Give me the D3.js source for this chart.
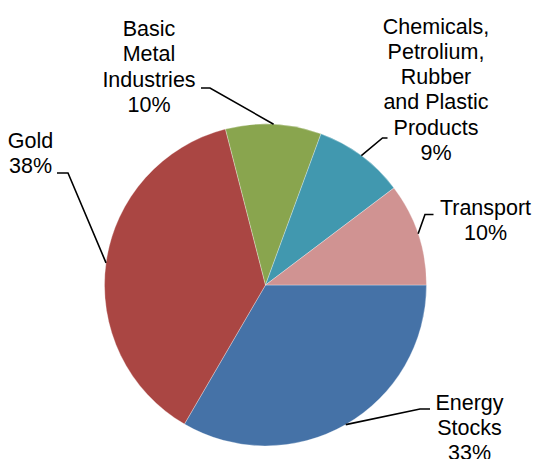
<!DOCTYPE html>
<html>
<head>
<meta charset="utf-8">
<script src="https://cdn.jsdelivr.net/npm/d3@7"></script>
<style>
  body { margin: 0; background: #fff; }
  svg { display: block; }
  text { font-family: "Liberation Sans", Arial, sans-serif; font-size: 21.5px; fill: #000; }
</style>
</head>
<body>
<div class="pieChart"></div>
<script>
// data (share of portfolio, percent)
var categories = ["Energy Stocks", "Gold", "Basic Metal Industries",
    "Chemicals, Petrolium, Rubber and Plastic Products", "Transport"];
var values = [33.4, 37.6, 9.6, 9.1, 10.3];
// label text split into lines as shown
var labelLines = [
    ["Energy", "Stocks"],
    ["Gold"],
    ["Basic", "Metal", "Industries"],
    ["Chemicals,", "Petrolium,", "Rubber", "and Plastic", "Products"],
    ["Transport"]
];
var colors = ["#4572A7", "#AA4643", "#89A54E", "#4198AF", "#D09392"];

// layout: label centre x, first baseline y, leader anchor at label side, elbow length
var labelLayout = [
    {x: 469.5, y: 409.5, ax: 430, ay: 409, dx: -10},
    {x: 30.5, y: 148, ax: 57, ay: 173, dx: 11},
    {x: 149, y: 36, ax: 201, ay: 88, dx: 9},
    {x: 436, y: 33.5, ax: 387.5, ay: 138, dx: -5},
    {x: 485.5, y: 215, ax: 433.5, ay: 214.5, dx: -8.5}
];

var W = 535, H = 459;
var CX = 265.5, CY = 285, R = 161;
var LINE_H = 25.3;

var total = d3.sum(values);
var pct = d3.format(".0%");

var svg = d3.select(".pieChart").append("svg")
    .attr("width", W)
    .attr("height", H);

var pie = d3.pie()
    .sort(null)
    .startAngle(Math.PI / 2)
    .endAngle(Math.PI / 2 + 2 * Math.PI)
    .value(function(d) { return d; });

var arcs = pie(values);

var arc = d3.arc().innerRadius(0).outerRadius(R);
var rim = d3.arc().innerRadius(R).outerRadius(R);

var g = svg.append("g")
    .attr("transform", "translate(" + CX + "," + CY + ")");

g.selectAll("path.slice").data(arcs).enter()
    .append("path")
    .attr("class", "slice")
    .attr("d", arc)
    .style("fill", function(d, i) { return colors[i]; })
    .style("stroke", "#fff")
    .style("stroke-width", 0.5)
    .style("stroke-opacity", 0.6);

// leader lines: label anchor -> short horizontal -> middle of slice rim
svg.selectAll("polyline.leader").data(arcs).enter()
    .append("polyline")
    .attr("class", "leader")
    .attr("points", function(d, i) {
        var L = labelLayout[i];
        var c = rim.centroid(d);
        return [[L.ax, L.ay], [L.ax + L.dx, L.ay], [CX + c[0], CY + c[1]]].join(" ");
    })
    .style("fill", "none")
    .style("stroke", "#000")
    .style("stroke-width", 1.6);

var labels = svg.selectAll("text.label").data(arcs).enter()
    .append("text")
    .attr("class", "label")
    .attr("text-anchor", "middle");

labels.each(function(d, i) {
    var L = labelLayout[i];
    var lines = labelLines[i].concat([pct(d.value / total)]);
    d3.select(this).selectAll("tspan").data(lines).enter()
        .append("tspan")
        .attr("x", L.x)
        .attr("y", function(t, j) { return L.y + j * LINE_H; })
        .text(function(t) { return t; });
});
</script>
</body>
</html>
